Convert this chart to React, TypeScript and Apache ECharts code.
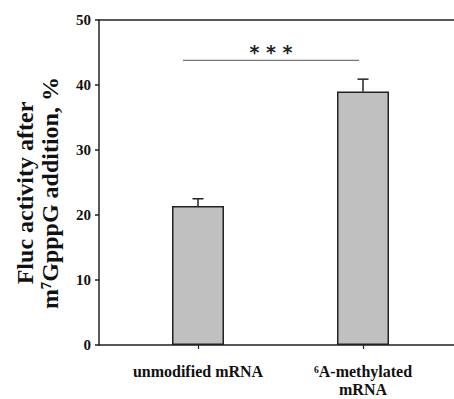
import React, { useEffect, useRef } from "react";
import * as echarts from "echarts";

const categories = ["unmodified mRNA", "\u2076A-methylated\nmRNA"];
const means = [21.4, 39.0];
const errorTops = [22.5, 40.9];
const yTicks = { min: 0, max: 50, interval: 10 };
const significance = { from: 0, to: 1, level: 43.8, label: "* * *" };
const yTitleLines = ["Fluc activity after", "m\u2077GpppG addition, %"];

const SERIF = "'Liberation Serif', 'Times New Roman', serif";

export default function App() {
  const ref = useRef<HTMLDivElement>(null);
  useEffect(() => {
    if (!ref.current) return;
    const chart = echarts.init(ref.current, null, { renderer: "svg" });
    const gridTop = 20;
    const gridBottom = 54;
    const option: any = {
      animation: false,
      backgroundColor: "#ffffff",
      grid: [
        { left: 99, right: 0, top: gridTop, bottom: gridBottom, outerBoundsMode: "none", containLabel: false },
        { left: 115.5, right: 8.5, top: gridTop, bottom: gridBottom, outerBoundsMode: "none", containLabel: false },
      ],
      xAxis: [
        {
          gridIndex: 0, type: "value", min: 0, max: 1, position: "bottom",
          axisLine: { show: true, onZero: false, lineStyle: { color: "#222", width: 1.5 } },
          axisTick: { show: false }, axisLabel: { show: false }, splitLine: { show: false },
        },
        {
          gridIndex: 0, type: "value", min: 0, max: 1, position: "top",
          axisLine: { show: true, onZero: false, lineStyle: { color: "#222", width: 1.5 } },
          axisTick: { show: false }, axisLabel: { show: false }, splitLine: { show: false },
        },
        {
          gridIndex: 1, type: "category", data: categories, position: "bottom",
          axisLine: { show: false, onZero: false },
          axisTick: { show: true, alignWithLabel: true, length: 4, lineStyle: { color: "#222", width: 1.2 } },
          axisLabel: {
            margin: 17, fontFamily: SERIF, fontWeight: "bold", fontSize: 16,
            color: "#111", lineHeight: 18, interval: 0,
          },
          splitLine: { show: false },
        },
      ],
      yAxis: [
        {
          gridIndex: 0, type: "value", ...yTicks,
          axisLine: { show: true, lineStyle: { color: "#222", width: 1.5 } },
          axisTick: { show: true, length: 4, lineStyle: { color: "#222", width: 1.5 } },
          axisLabel: { margin: 8, fontFamily: SERIF, fontWeight: "bold", fontSize: 15, color: "#111" },
          splitLine: { show: false },
        },
        { gridIndex: 1, type: "value", ...yTicks, show: false, splitLine: { show: false } },
      ],
      series: [
        {
          type: "bar", xAxisIndex: 2, yAxisIndex: 1, data: means, barWidth: 52,
          itemStyle: { color: "#c0c0c0", borderColor: "#222", borderWidth: 1.5 },
          z: 2,
        },
        {
          type: "custom", xAxisIndex: 2, yAxisIndex: 1,
          data: means.map((m, i) => [i, m, errorTops[i]]),
          renderItem: (params: any, api: any) => {
            const base = api.coord([api.value(0), api.value(1)]);
            const top = api.coord([api.value(0), api.value(2)]);
            const style = { stroke: "#222", lineWidth: 1.5 };
            return {
              type: "group",
              children: [
                { type: "line", shape: { x1: base[0], y1: base[1], x2: top[0], y2: top[1] }, style },
                { type: "line", shape: { x1: top[0] - 5.5, y1: top[1], x2: top[0] + 5.5, y2: top[1] }, style },
              ],
            };
          },
          z: 3,
        },
        {
          type: "custom", xAxisIndex: 2, yAxisIndex: 1,
          data: [[significance.from, significance.to, significance.level]],
          renderItem: (params: any, api: any) => {
            const a = api.coord([api.value(0), api.value(2)]);
            const b = api.coord([api.value(1), api.value(2)]);
            const x1 = a[0] - 15;
            const x2 = b[0] - 4;
            return {
              type: "group",
              children: [
                { type: "line", shape: { x1, y1: a[1], x2, y2: a[1] }, style: { stroke: "#555", lineWidth: 1 } },
                {
                  type: "text", x: (x1 + x2) / 2, y: a[1] + 1,
                  style: {
                    text: significance.label, fontFamily: "'DejaVu Sans', sans-serif", fontSize: 19,
                    fontWeight: "bold", fill: "#222", align: "center", verticalAlign: "bottom",
                  },
                },
              ],
            };
          },
          z: 3,
        },
      ],
      graphic: [
        {
          type: "text", x: 37.5, y: 193, rotation: Math.PI / 2,
          style: {
            text: yTitleLines.join("\n"), fontFamily: SERIF, fontWeight: "bold", fontSize: 24,
            lineHeight: 25, fill: "#111", align: "center", verticalAlign: "middle",
          },
        },
      ],
    };
    chart.setOption(option);
    return () => chart.dispose();
  }, []);
  return (
    <div
      ref={ref}
      style={{ position: "fixed", left: 0, top: 0, width: 454, height: 399, background: "#fff" }}
    />
  );
}
